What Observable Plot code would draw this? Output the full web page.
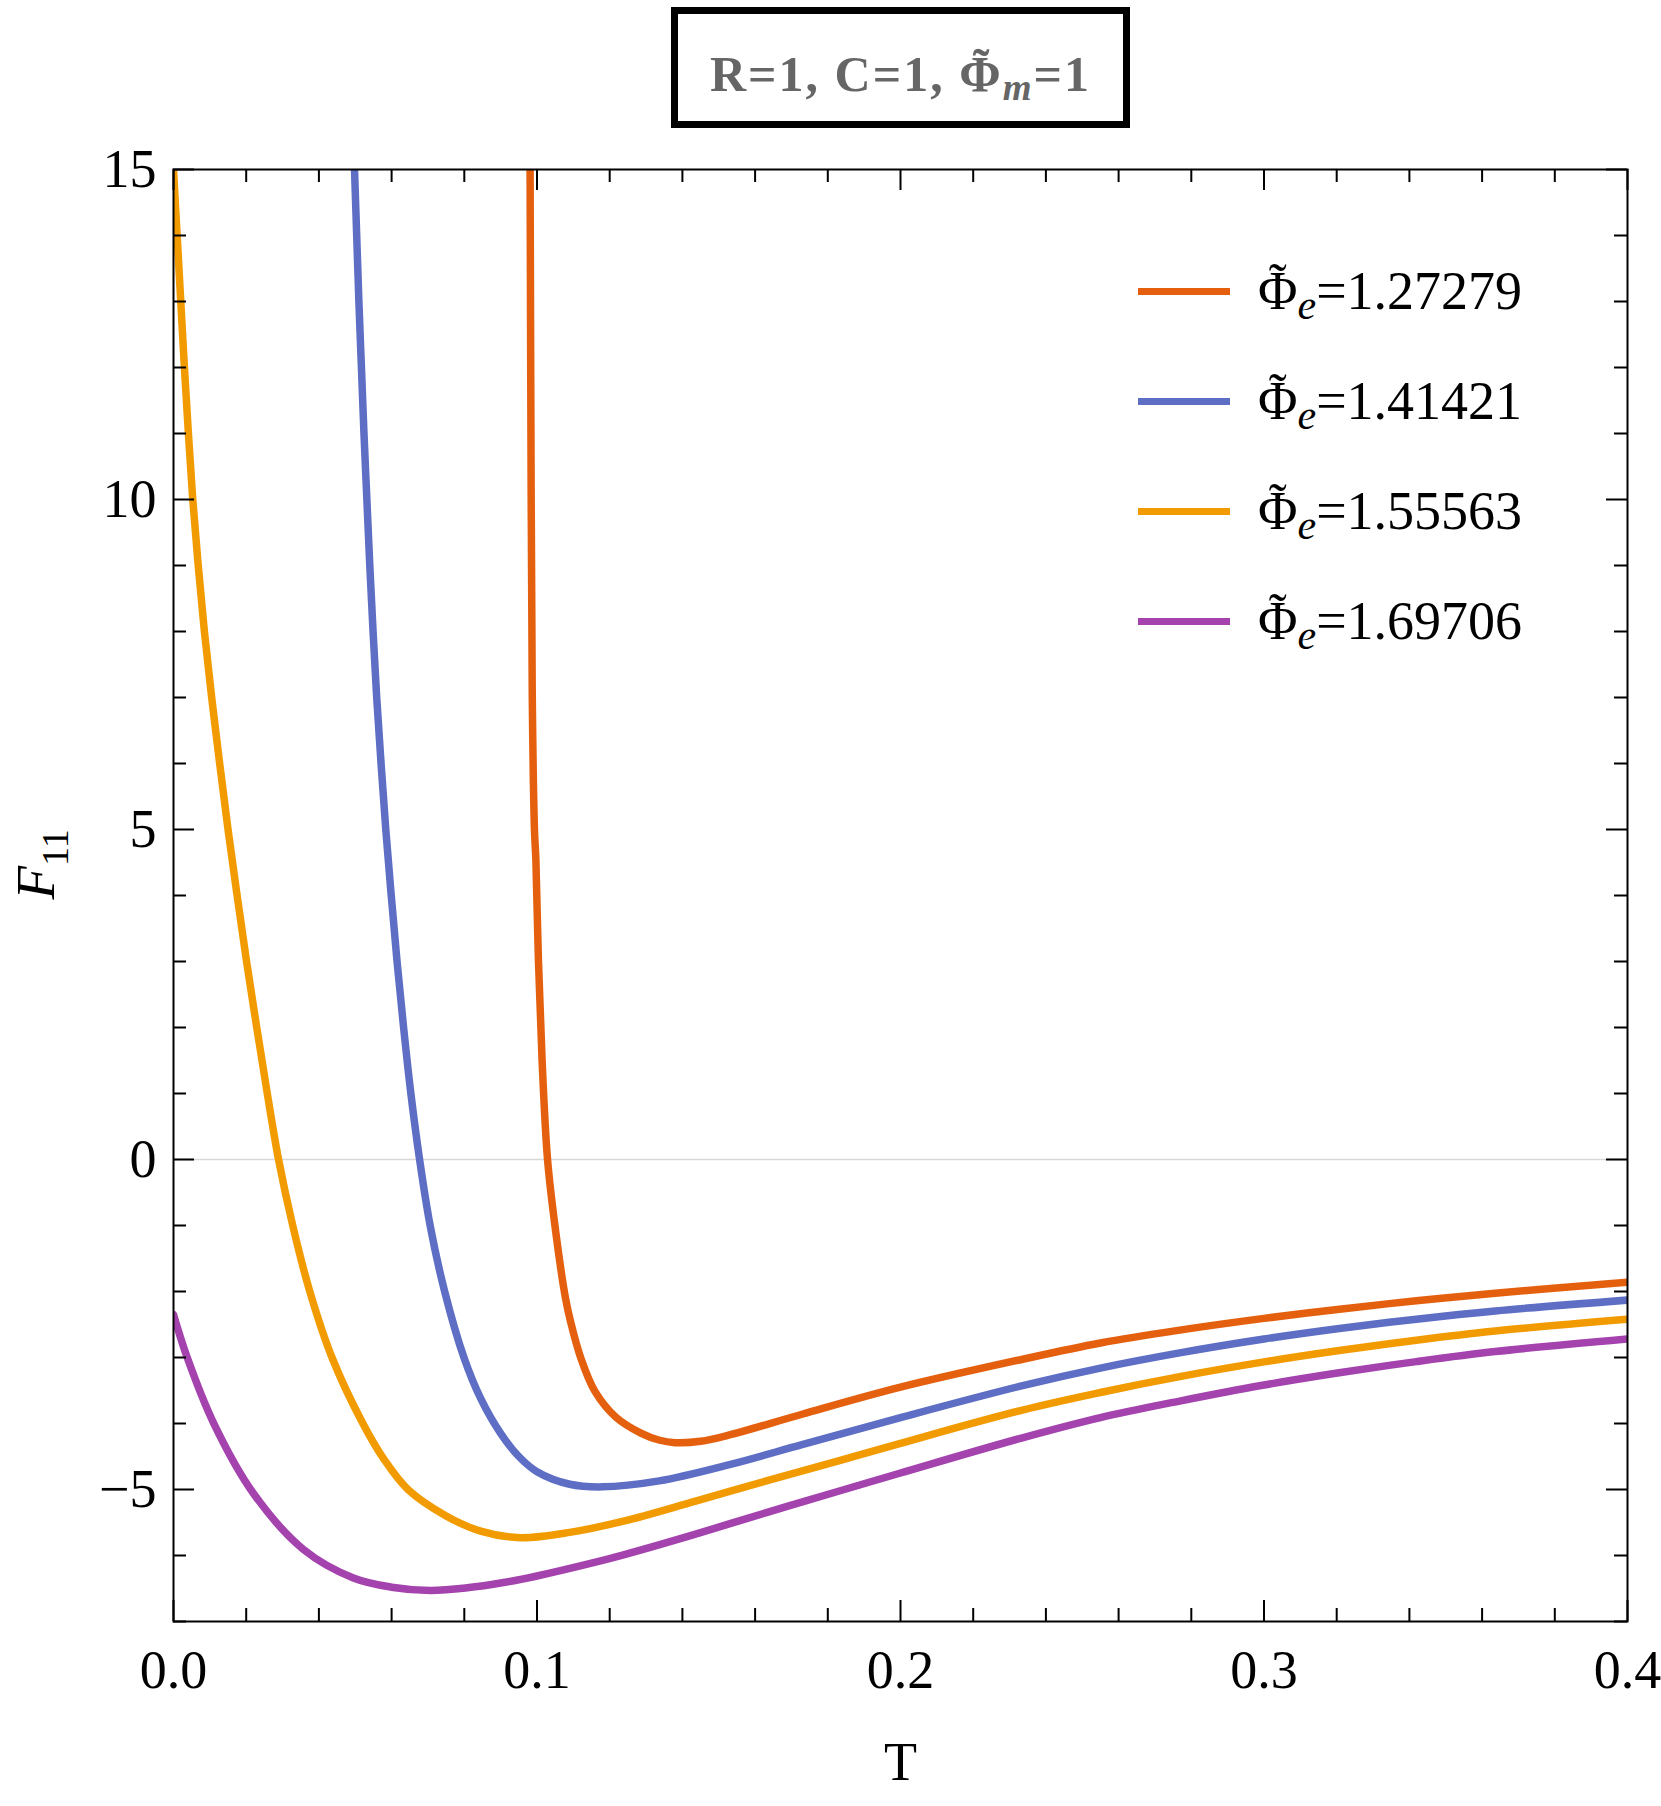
<!DOCTYPE html>
<html>
<head>
<meta charset="utf-8">
<script src="https://cdn.jsdelivr.net/npm/d3@7"></script>
<script src="https://cdn.jsdelivr.net/npm/@observablehq/plot@0.6"></script>
<style>
  html, body { margin: 0; padding: 0; background: #fff; }
  #page { position: relative; width: 1661px; height: 1806px; font-family: "Liberation Serif", "Times New Roman", serif; }
  #title { position: absolute; left: 671px; top: 7px; width: 459px; height: 121px; border: 7px solid #000; box-sizing: border-box; }
  #title .txt { position: absolute; left: 0; right: 0; top: 36px; text-align: center; font-size: 50px; line-height: 49px; font-weight: bold; color: #666; white-space: nowrap; letter-spacing: 2px; }
  #chart { position: absolute; left: 0; top: 140px; }
  #legend { position: absolute; left: 1138px; top: 236px; }
  #legend .row { height: 110px; display: flex; align-items: center; }
  #legend .sw { width: 92px; height: 7px; margin-right: 28px; }
  #legend .lab { font-size: 54px; line-height: 1; color: #000; white-space: nowrap; }
  .phi { position: relative; display: inline-block; }
  .phi::after { content: "\02DC"; position: absolute; left: 0; width: 100%; text-align: center; top: -0.15em; letter-spacing: 0; }
</style>
</head>
<body>
<div id="page">
  <div id="title"><div class="txt"></div></div>
  <div id="chart"></div>
  <div id="legend"></div>
</div>
<script>
// ---- data ----
const seriesNames = ["1.27279", "1.41421", "1.55563", "1.69706"];
const seriesColors = ["#E4600F", "#5D6EC4", "#F29B00", "#A442AE"];

const T_127 = [0.0981, 0.0984, 0.0987, 0.0993, 0.0997, 0.1004, 0.1014, 0.1029, 0.1050, 0.1078, 0.1092, 0.1120, 0.1159, 0.1218, 0.1287, 0.1335, 0.1380, 0.1450, 0.1532, 0.1729, 0.2000, 0.2333, 0.2550, 0.2768, 0.3000, 0.3202, 0.3419, 0.3636, 0.4000];
const F_127 = [15, 10, 7, 5, 4.53, 3.01, 1.5, 0, -1.03, -2.09, -2.45, -3.0, -3.51, -3.91, -4.15, -4.25, -4.29, -4.27, -4.17, -3.86, -3.45, -3.03, -2.78, -2.585, -2.407, -2.272, -2.14, -2.025, -1.86];

const T_141 = [0.0498, 0.0504, 0.0510, 0.0517, 0.0524, 0.0532, 0.0540, 0.0549, 0.0559, 0.0571, 0.0584, 0.0599, 0.0615, 0.0633, 0.0653, 0.0677, 0.0706, 0.0746, 0.0799, 0.0845, 0.0900, 0.0950, 0.1000, 0.1090, 0.1179, 0.1336, 0.1532, 0.1729, 0.2000, 0.2333, 0.2550, 0.2768, 0.3000, 0.3202, 0.3419, 0.3636, 0.4000];
const F_141 = [15, 14, 13, 12, 11, 10, 9, 8, 7, 6, 5, 4, 3, 2, 1, 0, -1, -2, -3, -3.62, -4.15, -4.50, -4.73, -4.92, -4.96, -4.87, -4.62, -4.32, -3.91, -3.43, -3.16, -2.93, -2.72, -2.564, -2.419, -2.294, -2.13];

const T_156 = [0.0000, 0.0010, 0.0020, 0.0030, 0.0041, 0.0053, 0.0068, 0.0085, 0.0105, 0.0127, 0.0150, 0.0175, 0.0201, 0.0229, 0.0258, 0.0289, 0.0328, 0.0375, 0.0436, 0.0521, 0.0580, 0.0645, 0.0750, 0.0845, 0.0953, 0.1090, 0.1238, 0.1434, 0.1631, 0.1827, 0.2000, 0.2333, 0.2550, 0.2768, 0.3000, 0.3202, 0.3419, 0.3636, 0.4000];
const F_156 = [15, 14, 13, 12, 11, 10, 9, 8, 7, 6, 5, 4, 3, 2, 1, 0, -1, -2, -3, -4, -4.55, -5.0, -5.40, -5.63, -5.73, -5.65, -5.48, -5.18, -4.87, -4.57, -4.30, -3.80, -3.53, -3.29, -3.067, -2.898, -2.738, -2.599, -2.42];

const T_170 = [0.0000, 0.0037, 0.0110, 0.0220, 0.0358, 0.0495, 0.0600, 0.0706, 0.0808, 0.0908, 0.1000, 0.1147, 0.1238, 0.1434, 0.1631, 0.1827, 0.2000, 0.2333, 0.2550, 0.2768, 0.3000, 0.3202, 0.3419, 0.3636, 0.4000];
const F_170 = [-2.35, -2.99, -3.99, -5.06, -5.91, -6.34, -6.48, -6.53, -6.49, -6.41, -6.31, -6.12, -5.99, -5.68, -5.35, -5.03, -4.75, -4.22, -3.91, -3.66, -3.417, -3.235, -3.062, -2.91, -2.72];

const xMajorTicks = [0, 0.1, 0.2, 0.3, 0.4];
const xMinorTicks = [0.02, 0.04, 0.06, 0.08, 0.12, 0.14, 0.16, 0.18, 0.22, 0.24, 0.26, 0.28, 0.32, 0.34, 0.36, 0.38];
const yMajorTicks = [-5, 0, 5, 10, 15];
const yMinorTicks = [-7, -6, -4, -3, -2, -1, 1, 2, 3, 4, 6, 7, 8, 9, 11, 12, 13, 14];
const xTickLabels = ["0.0", "0.1", "0.2", "0.3", "0.4"];
const yTickLabels = ["\u22125", "0", "5", "10", "15"];

// ---- build table ----
const seriesT = [T_127, T_141, T_156, T_170];
const seriesF = [F_127, F_141, F_156, F_170];
const rows = [];
seriesNames.forEach((s, i) => seriesT[i].forEach((t, j) => rows.push({s, T: t, F: seriesF[i][j]})));

// ---- layout ----
const W = 1661, H = 1666, mL = 173, mR = 34, mT = 29, mB = 185;
const plotW = W - mL - mR, plotH = H - mT - mB;
const major = 21, minor = 13;

const chart = Plot.plot({
  width: W, height: H,
  marginLeft: mL, marginRight: mR, marginTop: mT, marginBottom: mB,
  style: {fontFamily: '"Liberation Serif", "Times New Roman", serif', background: "white", color: "black"},
  x: {domain: [0, 0.4], axis: null},
  y: {domain: [-7, 15], axis: null},
  color: {domain: seriesNames, range: seriesColors},
  marks: [
    Plot.ruleY([0], {stroke: "#d8d8d8", strokeWidth: 1.5}),
    Plot.line(rows, {x: "T", y: "F", z: "s", stroke: "s", strokeWidth: 7.5, curve: "catmull-rom", clip: true}),
    // ticks, drawn inward on all four sides
    Plot.tickX(xMajorTicks, {x: d => d, insetTop: plotH - major, stroke: "black", strokeWidth: 2}),
    Plot.tickX(xMajorTicks, {x: d => d, insetBottom: plotH - major, stroke: "black", strokeWidth: 2}),
    Plot.tickX(xMinorTicks, {x: d => d, insetTop: plotH - minor, stroke: "black", strokeWidth: 2}),
    Plot.tickX(xMinorTicks, {x: d => d, insetBottom: plotH - minor, stroke: "black", strokeWidth: 2}),
    Plot.tickY(yMajorTicks, {y: d => d, insetRight: plotW - major, stroke: "black", strokeWidth: 2}),
    Plot.tickY(yMajorTicks, {y: d => d, insetLeft: plotW - major, stroke: "black", strokeWidth: 2}),
    Plot.tickY(yMinorTicks, {y: d => d, insetRight: plotW - minor, stroke: "black", strokeWidth: 2}),
    Plot.tickY(yMinorTicks, {y: d => d, insetLeft: plotW - minor, stroke: "black", strokeWidth: 2}),
    Plot.frame({stroke: "black", strokeWidth: 2}),
    // tick labels
    Plot.text(xMajorTicks, {x: d => d, text: (d, i) => xTickLabels[i], frameAnchor: "bottom", dy: 49, lineAnchor: "middle", fontSize: 54, fill: "black"}),
    Plot.text(yMajorTicks, {y: d => d, text: (d, i) => yTickLabels[i], frameAnchor: "left", dx: -17, textAnchor: "end", lineAnchor: "middle", fontSize: 54, fill: "black"}),
    // axis labels
    Plot.text(["T"], {frameAnchor: "bottom", dy: 141, lineAnchor: "middle", fontSize: 54, fill: "black"}),
    Plot.text(["F"], {frameAnchor: "left", dx: -137, dy: 4, rotate: -90, lineAnchor: "middle", fontSize: 55, fill: "black"})
  ]
});
document.getElementById("chart").appendChild(chart);

// y label with subscript
const yl = d3.select(chart).selectAll("text").filter(function() { return this.textContent === "F"; });
yl.text(null);
yl.append("tspan").attr("font-style", "italic").text("F");
yl.append("tspan").attr("font-size", 38).attr("dy", 14).text("11");

const phi = '<span class="phi">\u03A6</span>';

// title
document.querySelector("#title .txt").innerHTML =
  'R=1, C=1, ' + phi + '<span style="font-style:italic;font-size:37px;position:relative;top:9px">m</span>=1';

// legend
const legend = d3.select("#legend");
seriesNames.forEach((s, i) => {
  const row = legend.append("div").attr("class", "row");
  row.append("div").attr("class", "sw").style("background", seriesColors[i]);
  row.append("div").attr("class", "lab").html(
    phi + '<span style="font-style:italic;font-size:42px;position:relative;top:10px">e</span>=' + s);
});
</script>
</body>
</html>
